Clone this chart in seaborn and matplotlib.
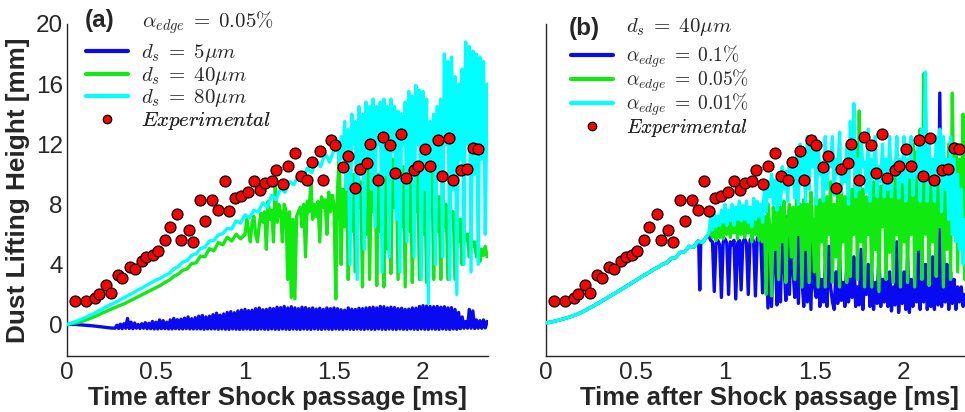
import numpy as np
import pandas as pd
import matplotlib
matplotlib.use("Agg")
import matplotlib.pyplot as plt
from matplotlib.lines import Line2D
import seaborn as sns

# ---------------- data ----------------
# Experimental dust lifting height (same measurements in both panels)
exp_t = [0.047, 0.104, 0.155, 0.181, 0.220, 0.246, 0.285, 0.311, 0.354, 0.380,
         0.419, 0.445, 0.483, 0.511, 0.548, 0.576, 0.619, 0.641, 0.684, 0.710,
         0.749, 0.777, 0.813, 0.848, 0.885, 0.910, 0.945, 0.975, 1.018, 1.049,
         1.085, 1.111, 1.150, 1.174, 1.215, 1.241, 1.282, 1.312, 1.351, 1.376,
         1.420, 1.439, 1.482, 1.508, 1.549, 1.577, 1.620, 1.646, 1.687, 1.705,
         1.748, 1.776, 1.815, 1.842, 1.879, 1.905, 1.948, 1.974, 2.013, 2.041,
         2.082, 2.104, 2.147, 2.170, 2.211, 2.248, 2.280, 2.309]
exp_h = [1.53, 1.53, 1.77, 2.06, 2.64, 2.10, 3.28, 3.08, 3.85, 3.72,
         4.23, 4.50, 4.61, 4.87, 5.65, 6.47, 7.38, 5.60, 6.29, 5.51,
         8.28, 6.87, 8.28, 7.64, 9.57, 7.57, 8.42, 8.53, 8.79, 9.57,
         8.93, 9.44, 9.57, 10.28, 9.37, 10.54, 11.43, 9.90, 9.63, 10.79,
         11.56, 9.63, 12.31, 11.94, 10.48, 11.18, 9.10, 10.34, 10.72, 12.00,
         9.63, 12.51, 11.94, 10.08, 12.71, 9.77, 10.28, 10.54, 11.69, 10.54,
         12.27, 9.90, 12.40, 9.63, 10.28, 10.34, 11.76, 11.69]

# Panel (a): alpha_edge = 0.05 %, three particle sizes.
# Oscillating parts are sampled every 0.01 ms (one row of ten = 0.1 ms).

# d_s = 5 um
blue_a_t = [0.0, 0.05, 0.10, 0.15, 0.20, 0.25]
blue_a_v = [0.0, 0.0, -0.05, -0.10, -0.17, -0.24]
blue_a_osc_t0 = 0.27
blue_a_osc = [
    -0.25, -0.05, -0.27, 0.02, -0.28, 0.05, -0.25, 0.40, -0.27, 0.15,
    -0.28, 0.10, -0.25, 0.00, -0.27, 0.05, -0.25, 0.12, -0.28, 0.08,
    -0.28, 0.20, -0.30, 0.15, -0.30, 0.30, -0.28, 0.25, -0.28, 0.15,
    -0.30, 0.30, -0.30, 0.40, -0.28, 0.32, -0.30, 0.35, -0.30, 0.42,
    -0.28, 0.50, -0.30, 0.38, -0.30, 0.45, -0.30, 0.55, -0.30, 0.60,
    -0.32, 0.50, -0.30, 0.55, -0.30, 0.65, -0.30, 0.75, -0.32, 0.62,
    -0.30, 0.70, -0.32, 0.80, -0.33, 0.85, -0.30, 0.78, -0.32, 0.90,
    -0.33, 0.95, -0.32, 1.00, -0.30, 0.92, -0.33, 0.95, -0.32, 1.05,
    -0.33, 1.10, -0.30, 0.98, -0.32, 1.00, -0.33, 1.08, -0.30, 1.05,
    -0.32, 1.15, -0.33, 1.12, -0.30, 1.20, -0.32, 1.10, -0.33, 1.18,
    -0.30, 1.10, -0.32, 1.05, -0.33, 1.15, -0.30, 1.12, -0.32, 1.05,
    -0.33, 1.10, -0.30, 1.02, -0.32, 1.08, -0.33, 1.00, -0.30, 1.10,
    -0.32, 1.05, -0.33, 1.10, -0.30, 1.05, -0.32, 0.98, -0.33, 0.95,
    -0.30, 1.10, -0.32, 1.02, -0.33, 1.00, -0.30, 1.08, -0.32, 1.05,
    -0.33, 1.10, -0.30, 1.12, -0.32, 1.15, -0.33, 1.10, -0.30, 1.20,
    -0.32, 1.18, -0.33, 1.10, -0.30, 1.15, -0.32, 1.12, -0.33, 1.05,
    -0.30, 1.08, -0.32, 1.00, -0.33, 1.02, -0.30, 1.10, -0.32, 1.08,
    -0.33, 1.20, -0.30, 1.25, -0.32, 1.22, -0.33, 1.20, -0.30, 1.18,
    -0.32, 1.20, -0.33, 1.15, -0.30, 1.18, -0.32, 1.10, -0.33, 1.12,
    -0.30, 1.00, -0.32, 0.80, -0.28, 0.50, -0.25, 0.20, -0.25, 1.00,
    -0.25, 0.90, -0.27, 0.30, -0.25, 0.25, -0.25, 0.30, -0.23, 0.20]

# d_s = 40 um : growth part every 0.025 ms, then oscillations from 1.0 ms
green_a_v = [0.00, 0.05, 0.10, 0.17, 0.27, 0.38, 0.50, 0.63, 0.77, 0.90,
             1.03, 1.15, 1.28, 1.40, 1.55, 1.70, 1.85, 2.00, 2.15, 2.30,
             2.45, 2.60, 2.80, 2.95, 3.20, 3.35, 3.60, 3.70, 4.05, 4.10,
             4.55, 4.50, 5.05, 4.90, 5.45, 5.30, 5.80, 5.55, 6.00, 5.70]
green_a_osc_t0 = 1.00
green_a_osc = [
    6.0, 7.0, 6.2, 5.5, 6.8, 7.2, 6.0, 5.5, 6.6, 7.4,
    6.8, 7.5, 5.0, 8.2, 7.0, 7.6, 5.5, 9.3, 6.8, 8.0,
    7.5, 5.5, 8.0, 7.6, 3.0, 7.5, 1.8, 7.0, 1.7, 7.2,
    7.5, 7.8, 6.5, 8.0, 4.5, 8.2, 7.5, 9.5, 7.0, 8.0,
    7.2, 8.2, 5.5, 8.5, 7.8, 8.3, 6.0, 8.8, 7.5, 8.6,
    8.0, 1.7, 9.0, 11.5, 4.0, 9.0, 6.5, 10.5, 3.0, 9.0,
    6.2, 10.0, 3.5, 11.0, 7.8, 9.5, 2.5, 12.5, 6.0, 11.0,
    3.0, 10.5, 7.5, 12.0, 2.6, 10.0, 6.2, 11.5, 2.5, 13.0,
    5.0, 14.0, 3.4, 11.0, 7.8, 10.0, 3.0, 9.5, 6.5, 10.5,
    2.5, 11.5, 6.2, 10.0, 2.8, 9.0, 7.5, 10.5, 3.0, 11.0,
    6.0, 10.0, 2.8, 9.5, 7.5, 10.5, 3.0, 9.0, 6.2, 8.5,
    3.0, 9.5, 6.5, 8.0, 3.0, 8.5, 7.0, 7.5, 3.0, 7.0,
    5.5, 7.0, 4.0, 6.5, 5.6, 6.0, 4.5, 5.8, 5.2, 5.5,
    4.5, 5.5, 4.2, 5.0, 4.6, 5.2, 4.5]

# d_s = 80 um : growth part every 0.025 ms, then oscillations from 1.51 ms
cyan_a_v = [0.00, 0.10, 0.20, 0.32, 0.45, 0.58, 0.72, 0.88, 1.05, 1.20,
            1.35, 1.50, 1.65, 1.80, 1.97, 2.12, 2.30, 2.45, 2.62, 2.78,
            2.95, 3.08, 3.25, 3.40, 3.70, 3.85, 4.15, 4.25, 4.60, 4.70,
            5.05, 5.15, 5.55, 5.60, 5.95, 6.05, 6.40, 6.35, 6.90, 6.75,
            7.30, 7.10, 7.60, 7.50, 8.10, 7.80, 8.60, 8.30, 9.10, 8.80,
            9.50, 9.30, 10.00, 9.70, 10.40, 10.10, 10.90, 10.50, 11.40, 10.80,
            11.60]
cyan_a_osc_t0 = 1.51
cyan_a_osc = [
    11.6, 11.9, 10.8, 12.5, 11.0, 13.5, 9.0, 13.0, 4.0, 14.0,
    12.0, 13.5, 3.0, 14.5, 10.0, 14.0, 5.0, 14.8, 11.0, 14.5,
    9.0, 15.0, 6.5, 14.5, 12.0, 14.8, 3.5, 15.0, 10.0, 14.5,
    4.5, 15.0, 11.5, 14.5, 7.0, 14.2, 3.5, 14.0, 12.0, 14.8,
    5.5, 15.5, 10.0, 15.2, 4.5, 15.9, 12.0, 15.6, 3.0, 15.5,
    9.0, 15.0, 1.4, 13.5, 11.0, 14.0, 4.0, 14.5, 10.0, 15.0,
    4.5, 18.0, 12.0, 17.5, 3.0, 17.8, 9.0, 16.5, 2.0, 16.0,
    11.0, 17.0, 4.0, 18.8, 12.0, 18.5, 3.5, 18.2, 10.0, 18.0,
    4.0, 17.8, 11.0, 17.5, 6.0, 16.0]

# Panel (b): d_s = 40 um, three edge volume fractions.
# shared growth part every 0.025 ms (0 - 0.9 ms)
b_base_v = [0.10, 0.15, 0.22, 0.30, 0.38, 0.47, 0.57, 0.68, 0.82, 0.97,
            1.13, 1.30, 1.47, 1.65, 1.83, 2.00, 2.18, 2.36, 2.55, 2.73,
            2.92, 3.10, 3.30, 3.45, 3.65, 3.80, 4.00, 4.10, 4.40, 4.45,
            4.80, 4.85, 5.20, 5.15, 5.55, 5.45, 5.90]
blue_b_dip_t = [0.853, 0.859, 0.865]
blue_b_dip_v = [5.50, 2.30, 5.50]
b_osc_t0 = 0.91
blue_b_osc = [
    5.9, 5.6, 5.5, 2.2, 5.4, 5.6, 5.3, 1.8, 5.5, 5.7,
    5.4, 2.0, 5.5, 5.3, 5.6, 1.7, 5.4, 5.6, 2.3, 5.5,
    5.7, 5.4, 2.0, 5.6, 5.8, 5.5, 1.9, 5.7, 6.0, 5.6,
    2.1, 5.5, 5.2, 1.1, 5.3, 1.2, 5.5, 5.0, 1.3, 6.2,
    1.5, 7.0, 4.0, 1.6, 7.2, 2.0, 7.4, 3.5, 1.8, 6.8,
    1.4, 6.5, 3.0, 1.2, 6.5, 1.5, 6.8, 1.0, 7.0, 2.5,
    1.8, 4.5, 1.2, 3.0, 1.5, 4.0, 1.2, 5.2, 2.5, 1.5,
    1.0, 3.5, 1.4, 4.5, 1.6, 2.8, 1.2, 4.0, 1.5, 3.2,
    1.8, 4.5, 1.2, 2.5, 1.3, 5.0, 1.0, 3.2, 2.0, 4.0,
    1.2, 3.5, 1.0, 2.8, 1.4, 4.8, 1.2, 3.0, 1.5, 4.0,
    1.2, 3.5, 0.9, 2.5, 1.3, 5.5, 0.8, 3.0, 1.4, 3.5,
    1.0, 4.5, 0.8, 3.0, 1.2, 3.5, 1.5, 5.0, 1.0, 3.8,
    1.5, 4.0, 1.0, 2.5, 1.2, 4.5, 1.0, 6.0, 1.3, 15.4,
    1.2, 5.0, 1.5, 4.0, 1.0, 3.5, 1.4, 3.0, 1.0, 2.5,
    1.5, 2.5, 1.2, 2.0, 1.4, 1.8]
green_b_osc = [
    6.0, 6.6, 5.8, 7.0, 5.6, 6.8, 5.8, 7.2, 5.7, 6.9,
    6.0, 7.2, 5.8, 6.8, 6.1, 7.3, 5.7, 7.0, 6.0, 7.3,
    5.8, 7.0, 6.1, 7.4, 5.5, 7.2, 6.0, 7.4, 5.6, 7.2,
    5.5, 7.2, 2.0, 8.0, 6.5, 1.9, 7.8, 5.0, 8.0, 3.0,
    7.8, 5.5, 8.2, 2.8, 7.0, 8.0, 4.5, 7.8, 3.0, 8.5,
    6.0, 8.0, 2.5, 8.3, 5.0, 8.0, 2.8, 8.8, 6.5, 3.5,
    8.5, 2.5, 8.3, 5.5, 9.0, 2.5, 8.5, 6.0, 9.5, 2.8,
    8.0, 4.5, 8.8, 2.5, 9.0, 5.5, 8.5, 2.8, 10.0, 3.2,
    9.0, 6.0, 12.0, 3.0, 14.2, 5.5, 9.0, 2.5, 8.5, 6.0,
    9.0, 2.5, 9.5, 5.0, 8.8, 2.2, 9.2, 6.5, 10.0, 3.0,
    9.0, 4.8, 9.5, 2.8, 10.0, 6.0, 9.0, 2.5, 9.8, 5.5,
    10.5, 2.8, 11.0, 6.0, 12.0, 2.5, 11.5, 5.0, 13.0, 3.0,
    16.7, 6.0, 12.5, 2.6, 11.0, 5.5, 9.0, 3.2, 10.0, 6.5,
    9.5, 2.5, 10.0, 5.0, 12.0, 3.0, 15.4, 6.0, 12.0, 3.5,
    11.0, 5.0, 14.0, 3.0, 16.0, 7.0]
cyan_b_osc = [
    6.1, 7.2, 6.3, 7.5, 6.5, 7.2, 6.6, 7.6, 6.8, 8.0,
    6.6, 7.6, 6.9, 8.0, 6.6, 7.8, 7.0, 8.2, 6.9, 7.9,
    7.0, 8.2, 6.8, 7.8, 6.5, 8.4, 7.0, 8.2, 7.2, 8.0,
    6.8, 9.0, 7.5, 9.5, 8.5, 10.0, 8.0, 9.6, 7.6, 10.0,
    8.0, 10.5, 9.0, 10.2, 8.2, 11.0, 9.5, 10.6, 8.4, 11.5,
    8.0, 12.0, 10.0, 11.5, 8.2, 12.5, 9.0, 12.0, 10.5, 12.5,
    8.0, 12.0, 10.0, 10.8, 8.2, 12.5, 9.0, 11.0, 10.5, 12.5,
    8.6, 11.0, 10.0, 12.8, 8.8, 10.5, 9.5, 12.0, 8.0, 13.5,
    10.5, 14.7, 8.5, 11.0, 9.0, 12.5, 10.5, 10.8, 8.8, 13.0,
    8.2, 11.0, 10.0, 12.5, 8.5, 10.5, 9.5, 12.0, 8.5, 11.0,
    9.0, 12.5, 8.5, 10.8, 10.0, 12.5, 8.4, 11.0, 9.5, 12.5,
    8.2, 11.0, 9.8, 12.5, 8.6, 10.5, 10.0, 12.0, 8.2, 13.0,
    9.5, 16.8, 8.2, 12.0, 10.0, 11.0, 8.2, 12.5, 9.8, 13.0,
    7.5, 12.5, 9.0, 11.0, 7.0, 12.5, 6.0, 11.0, 5.5, 10.0,
    5.0, 9.0, 4.0, 7.0, 3.0, 5.0]

y_ticks = [0, 4, 8, 12, 16, 20]
x_ticks = [0, 0.5, 1, 1.5, 2]
x_tick_labels = ["0", "0.5", "1", "1.5", "2"]

labels_a = [r'$d_s\;=\;5\mu m$', r'$d_s\;=\;40\mu m$', r'$d_s\;=\;80\mu m$',
            r'$Experimental$']
labels_b = [r'$\alpha_{edge}\;=\;0.1\%$', r'$\alpha_{edge}\;=\;0.05\%$',
            r'$\alpha_{edge}\;=\;0.01\%$', r'$Experimental$']
header_a = r'$\alpha_{edge}\;=\;0.05\%$'
header_b = r'$d_s\;=\;40\mu m$'

# ---------------- assemble series ----------------
def grid(t0, step, n):
    return list(np.round(t0 + step * np.arange(n), 4))

step_fine = 0.025
step_osc = 0.01

a_series = [
    (blue_a_t + grid(blue_a_osc_t0, step_osc, len(blue_a_osc)),
     blue_a_v + blue_a_osc),
    (grid(0.0, step_fine, len(green_a_v)) + grid(green_a_osc_t0, step_osc, len(green_a_osc)),
     green_a_v + green_a_osc),
    (grid(0.0, step_fine, len(cyan_a_v)) + grid(cyan_a_osc_t0, step_osc, len(cyan_a_osc)),
     cyan_a_v + cyan_a_osc),
]

b_base_t = grid(0.0, step_fine, len(b_base_v))
n_pre = 35  # base samples up to 0.85 ms
b_series = [
    (b_base_t[:n_pre] + blue_b_dip_t + b_base_t[n_pre:] + grid(b_osc_t0, step_osc, len(blue_b_osc)),
     b_base_v[:n_pre] + blue_b_dip_v + b_base_v[n_pre:] + blue_b_osc),
    (b_base_t + grid(b_osc_t0, step_osc, len(green_b_osc)),
     b_base_v + green_b_osc),
    (b_base_t + grid(b_osc_t0, step_osc, len(cyan_b_osc)),
     b_base_v + cyan_b_osc),
]

exp_df = pd.DataFrame({"t": exp_t, "h": exp_h})

# ---------------- style ----------------
sns.set_style("white")
plt.rcParams["font.family"] = ["Liberation Sans", "DejaVu Sans"]
plt.rcParams["mathtext.fontset"] = "cm"

line_colors = ["#0a0af0", "#10ea10", "#00ffff"]
dark = "#262626"
W, H = 965, 412

fig = plt.figure(figsize=(W / 100, H / 100), dpi=100)
ax_a = fig.add_axes([67 / W, 1 - 356 / H, (488 - 67) / W, (356 - 24) / H])
ax_b = fig.add_axes([546 / W, 1 - 356 / H, (992 - 546) / W, (356 - 24) / H])


def draw(ax, series, xmax):
    for (t, v), col, z in zip(series, line_colors, [2, 3, 4]):
        df = pd.DataFrame({"t": t, "v": v})
        sns.lineplot(data=df, x="t", y="v", ax=ax, color=col, lw=2.4,
                     estimator=None, sort=False, zorder=z, legend=False)
    sns.scatterplot(data=exp_df, x="t", y="h", ax=ax, s=62, color="#ff0000",
                    edgecolor="black", linewidth=0.9, zorder=6, legend=False)
    ax.set_xlim(0, xmax)
    ax.set_ylim(-2.1, 20)
    ax.set_xticks(x_ticks)
    ax.set_xticklabels(x_tick_labels)
    ax.set_yticks(y_ticks)
    for s in ["top", "right"]:
        ax.spines[s].set_visible(False)
    for s in ["left", "bottom"]:
        ax.spines[s].set_color(dark)
        ax.spines[s].set_linewidth(1.0)
    ax.tick_params(direction="in", length=5, width=1.0, color=dark,
                   labelcolor=dark, labelsize=17.5)
    ax.tick_params(axis="x", pad=4)
    ax.tick_params(axis="y", pad=3)
    ax.set_xlabel("Time after Shock passage [ms]", fontsize=18.5,
                  fontweight="bold", color=dark, labelpad=2)
    ax.set_ylabel("")


draw(ax_a, a_series, (488 - 67) / 178)
draw(ax_b, b_series, (992 - 546) / 179)
ax_b.set_yticklabels([])
ax_a.set_ylabel("Dust Lifting Height [mm]", fontsize=18.8, fontweight="bold",
                color=dark, labelpad=4)


def legend_rows(ax, labels, x0, rows_y, size):
    handles = [Line2D([], [], color=c, lw=3.0) for c in line_colors]
    handles.append(Line2D([], [], ls="none", marker="o", ms=6, mfc="#ff0000",
                          mec="black", mew=0.8))
    for h, lab, y in zip(handles, labels, rows_y):
        leg = ax.legend([h], [lab], loc="center left",
                        bbox_to_anchor=(x0 / W, 1 - y / H),
                        bbox_transform=fig.transFigure, frameon=False,
                        fontsize=size, borderpad=0, borderaxespad=0,
                        handlelength=2.0 * 15 / size, handletextpad=0.65 * 15 / size)
        leg.set_zorder(10)
        ax.add_artist(leg)


legend_rows(ax_a, labels_a, 86, [53, 76, 98, 121], 15)
legend_rows(ax_b, labels_b, 571, [57, 81, 105, 128], 14)

fig.text(85 / W, 1 - 20 / H, "(a)", fontsize=17.5, fontweight="bold",
         color=dark, ha="left", va="center")
fig.text(142 / W, 1 - 23 / H, header_a, fontsize=15, ha="left", va="center")
fig.text(569 / W, 1 - 28 / H, "(b)", fontsize=17.5, fontweight="bold",
         color=dark, ha="left", va="center")
fig.text(626 / W, 1 - 27 / H, header_b, fontsize=15, ha="left", va="center")

fig.savefig("out.png", dpi=100)
